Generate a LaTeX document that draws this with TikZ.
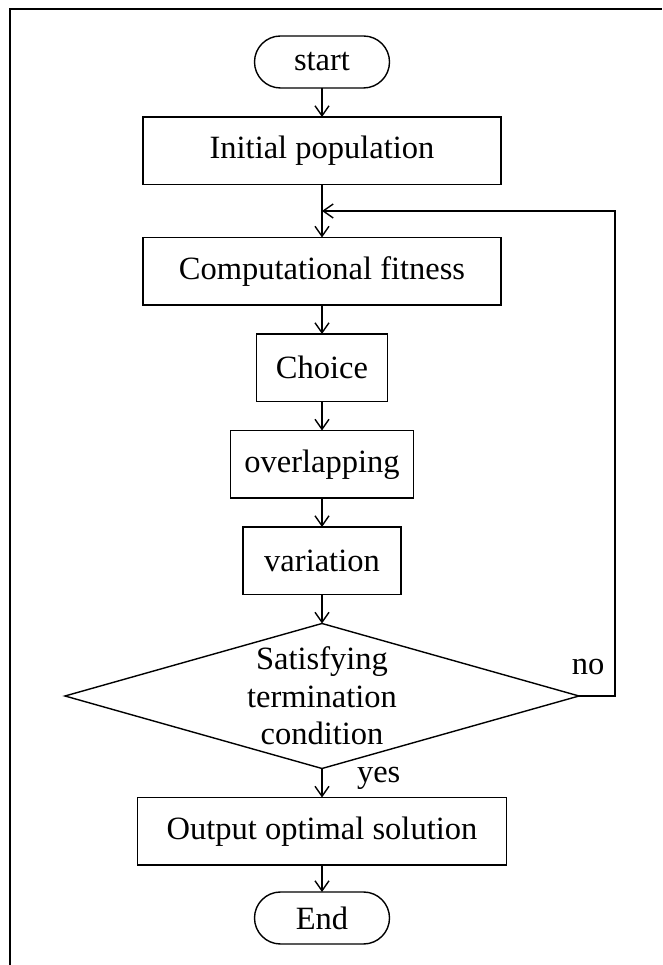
\documentclass[tikz,border=0pt]{standalone}
\usepackage{fontspec}
\setmainfont{Liberation Serif}
\usetikzlibrary{positioning}
\usetikzlibrary{shapes.geometric}
\usetikzlibrary{arrows.meta}

\begin{document}
\begin{tikzpicture}
	[x=1pt, y=1pt, node distance=29pt,
	 every node/.style={font=\fontsize{32.5}{37.5}\selectfont},
	 terminal/.style={draw=black, line width=1.4pt, outer sep=0pt, rounded corners=26pt, minimum width=135pt, minimum height=52pt},
	 process/.style={draw=black, line width=1.4pt, outer sep=0pt, minimum height=67.5pt},
	 decision/.style={diamond, draw=black, line width=1.4pt, outer sep=0pt, aspect=3.54, inner sep=0pt, minimum width=514pt, minimum height=145pt, align=center},
	 flow/.style={line width=1.4pt, -{Straight Barb[length=10pt, width=14pt]}}]
	\useasboundingbox (0,0) rectangle (662,965);
	\draw[line width=1.4pt] (10,0) -- (10,956) -- (662,956);
	\node[terminal] (start) at (322,903) {start};
	\node[process, minimum width=358pt, below=of start] (init) {Initial population};
	\node[process, minimum width=358pt, below=53pt of init] (fit) {Computational fitness};
	\node[process, minimum width=131pt, below=of fit] (choice) {Choice};
	\node[process, minimum width=183pt, below=of choice] (cross) {overlapping};
	\node[process, minimum width=158pt, below=of cross] (mutate) {variation};
	\node[decision, below=of mutate] (check) {Satisfying\\termination\\condition};
	\node[process, minimum width=369pt, below=of check] (out) {Output optimal solution};
	\node[terminal, below=27pt of out] (end) {End};
	\coordinate (loopin) at (322,754);
	\draw[flow] (start) -- (init);
	\draw[flow] (init) -- (fit);
	\draw[flow] (fit) -- (choice);
	\draw[flow] (choice) -- (cross);
	\draw[flow] (cross) -- (mutate);
	\draw[flow] (mutate) -- (check.north);
	\draw[flow] (check.south) -- node[pos=0.33, right=31pt] {yes} (out);
	\draw[flow] (out) -- (end);
	\draw[flow] (check.east) -- node[pos=0.25, above=17pt] {no} ++(36,0) |- (loopin);
\end{tikzpicture}
\end{document}
